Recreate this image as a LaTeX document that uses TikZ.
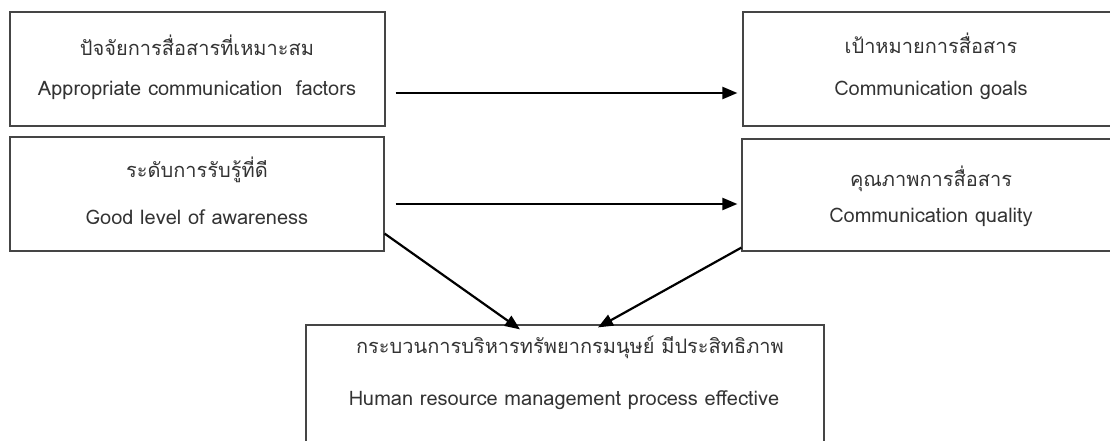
\documentclass[tikz,border=0pt]{standalone}
\usepackage{fontspec}
\newfontfamily\thaifont[Script=Thai]{Loma}
\setmainfont{Loma}
\usetikzlibrary{arrows.meta}
\definecolor{boxline}{HTML}{454545}
\definecolor{txt}{HTML}{333333}
\tikzset{
  boxnode/.style={draw=boxline, line width=1.2pt, rectangle, inner sep=0pt},
  thtext/.style={text=txt, font=\thaifont\fontsize{20}{23}\selectfont, inner sep=0pt},
  entext/.style={text=txt, font=\fontsize{20}{22}\selectfont, inner sep=0pt},
  arr/.style={draw=black, line width=2.2pt, -{Triangle[length=15pt,width=12pt]}},
}
\begin{document}
\begin{tikzpicture}[x=1pt,y=-1pt]
\useasboundingbox (0,0) rectangle (1110,441);
\clip (0,0) rectangle (1110,441);
\node[boxnode, minimum width=375pt, minimum height=114pt] (b1) at (197.5,69) {};
\node[boxnode, minimum width=376pt, minimum height=114pt] (b2) at (931,69) {};
\node[boxnode, minimum width=374pt, minimum height=114pt] (b3) at (197,194) {};
\node[boxnode, minimum width=378pt, minimum height=112pt] (b4) at (931,195) {};
\node[boxnode, minimum width=518pt, minimum height=140pt] (b5) at (565,395) {};

\node[thtext] (t1) at (197,45) {ปัจจัยการสื่อสารที่เหมาะสม};
\node[entext] (e1) at (197,90) {Appropriate communication\ \ factors};
\node[thtext] (t2) at (931,43) {เป้าหมายการสื่อสาร};
\node[entext] (e2) at (931,90) {Communication goals};
\node[thtext] (t3) at (197,170) {ระดับการรับรู้ที่ดี};
\node[entext] (e3) at (197,217) {Good level of awareness};
\node[thtext] (t4) at (931,179) {คุณภาพการสื่อสาร};
\node[entext] (e4) at (931,217) {Communication quality};
\node[thtext] (t5) at (570,347) {กระบวนการบริหารทรัพยากรมนุษย์ มีประสิทธิภาพ};
\node[entext] (e5) at (564,400) {Human resource management process effective};

\draw[arr] ([xshift=10pt,yshift=-24pt]b1.east) -- ([xshift=-5pt,yshift=-24pt]b2.west);
\draw[arr] ([xshift=11pt,yshift=-10pt]b3.east) -- ([xshift=-4pt,yshift=-9pt]b4.west);
\draw[arr] ([yshift=18pt]b3.south east) -- ([xshift=-45pt,yshift=-5pt]b5.north);
\draw[arr] ([yshift=4pt]b4.south west) -- ([xshift=33pt,yshift=-3pt]b5.north);
\end{tikzpicture}
\end{document}
